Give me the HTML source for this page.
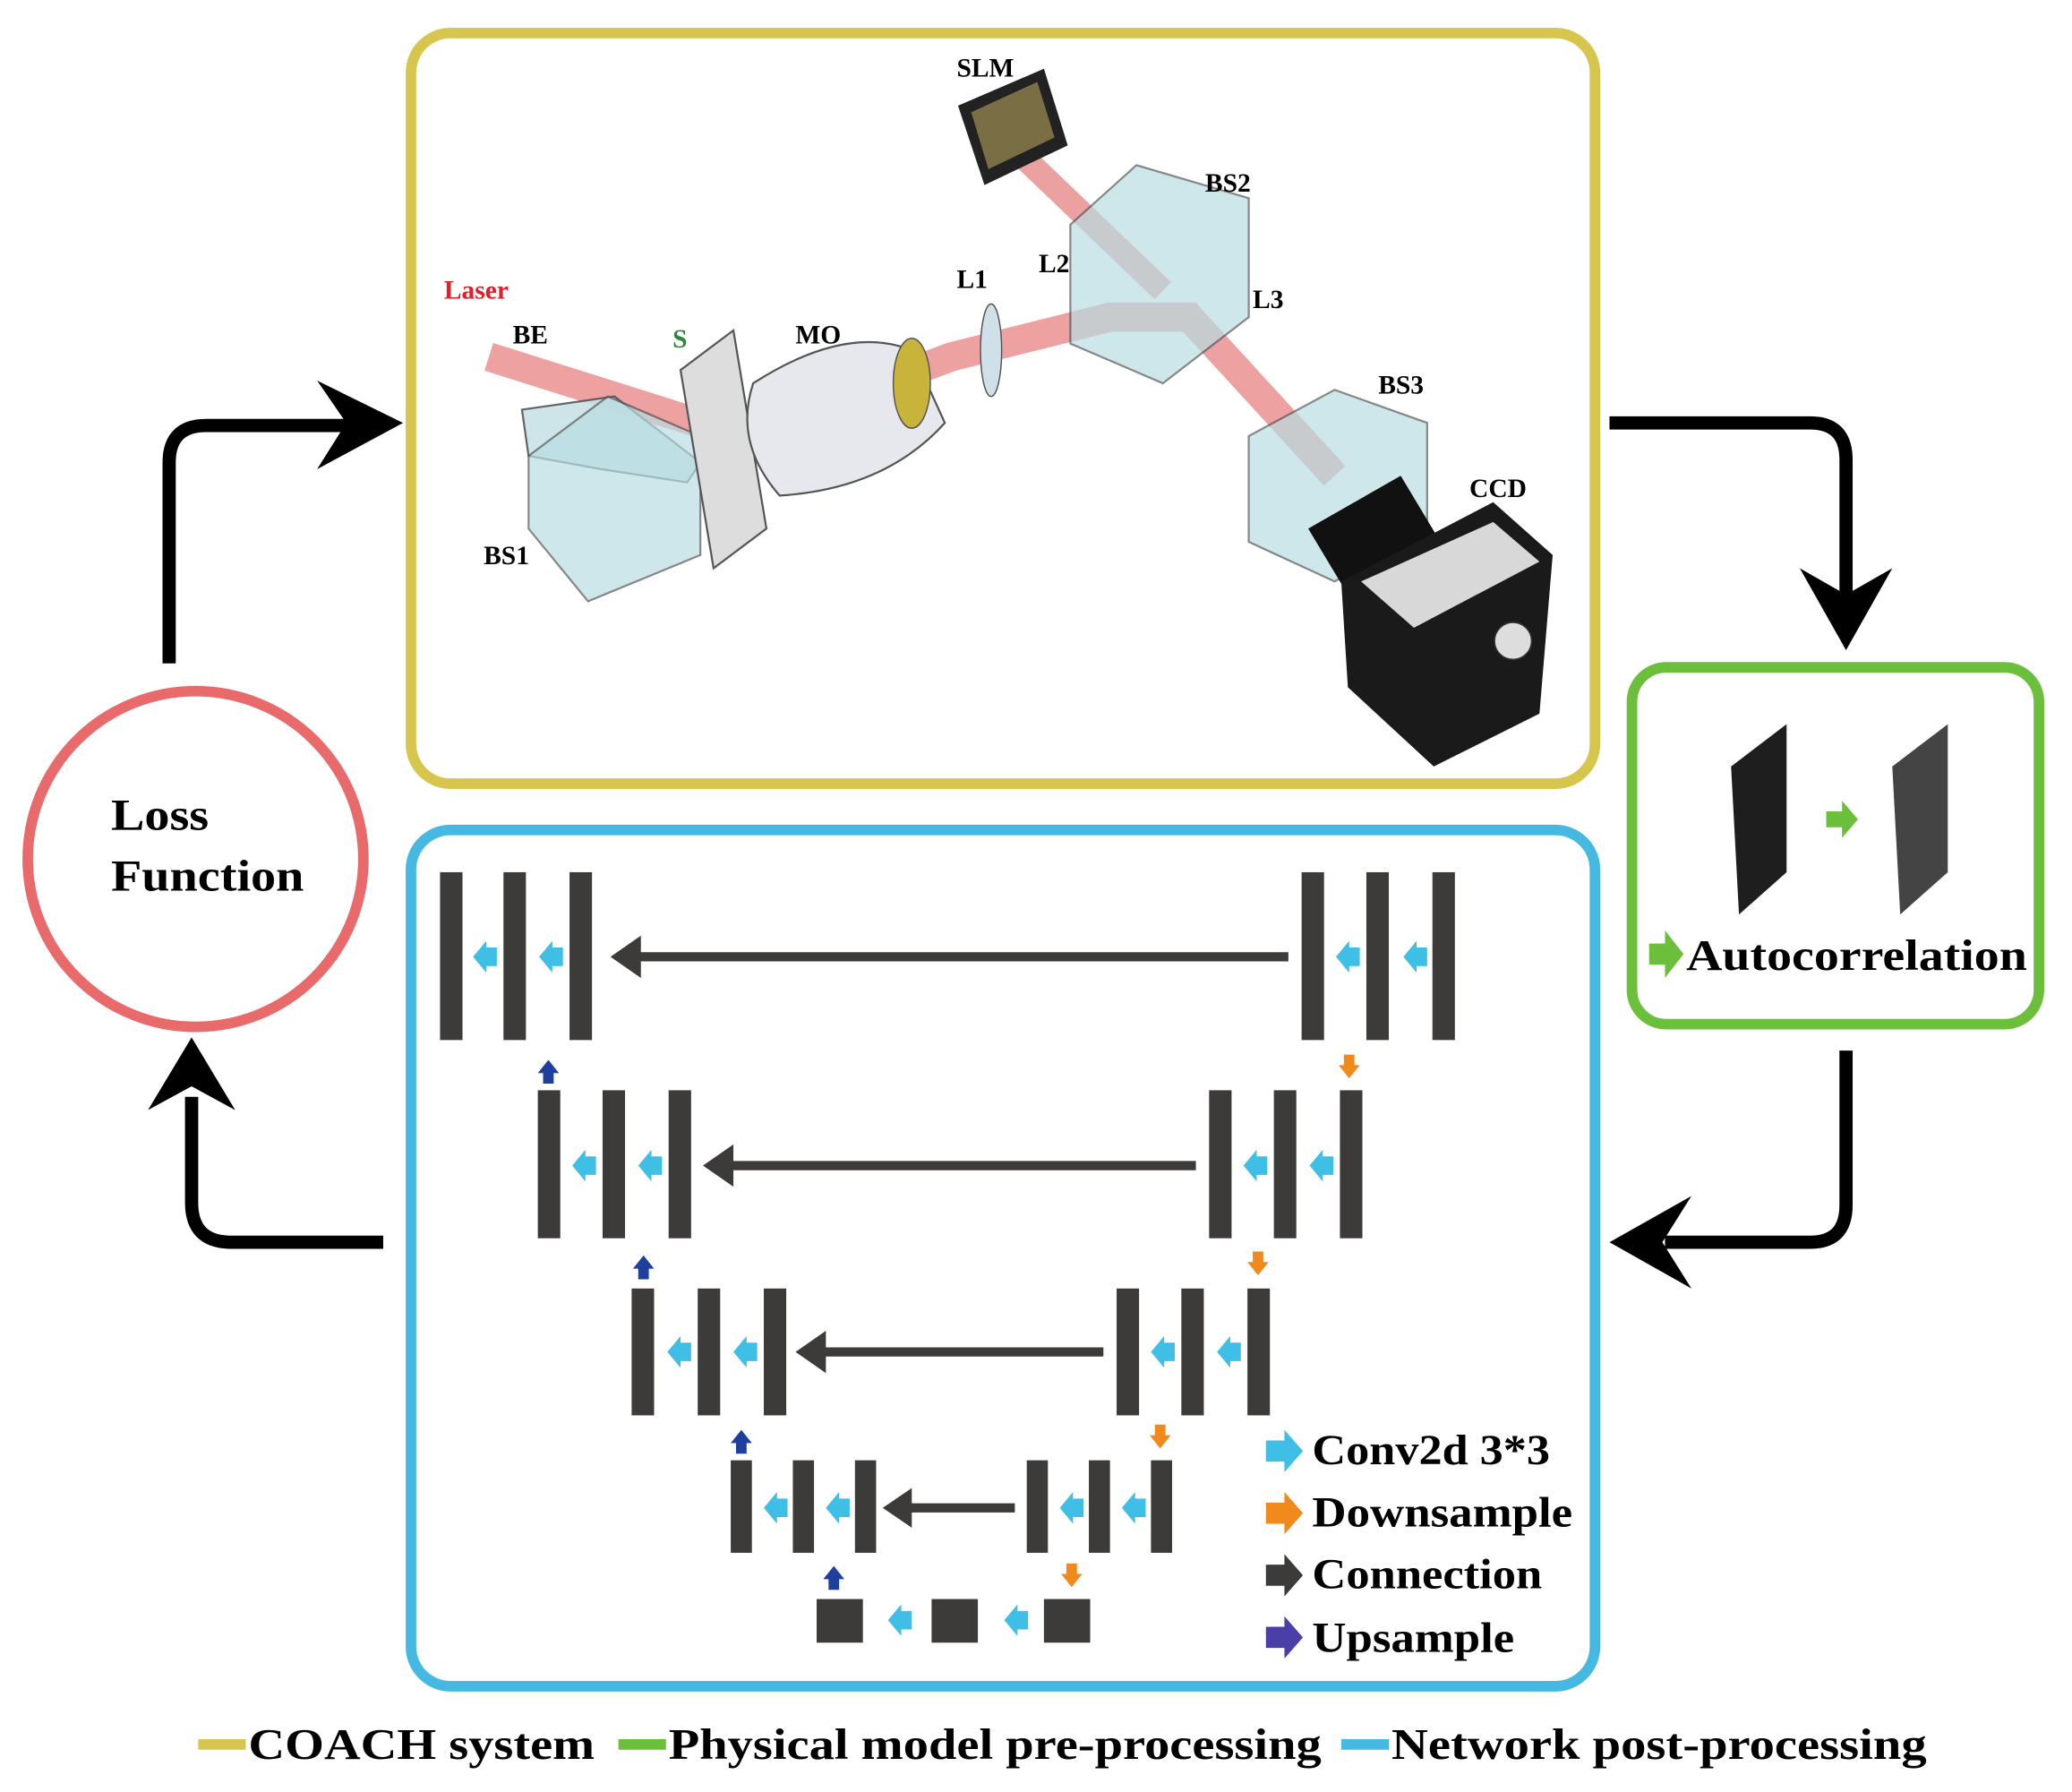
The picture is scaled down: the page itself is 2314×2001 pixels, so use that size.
<!DOCTYPE html>
<html><head><meta charset="utf-8"><style>
html,body{margin:0;padding:0;background:#fff;}
svg{display:block;}
text{font-family:"Liberation Serif",serif;font-weight:bold;}
</style></head><body>
<svg width="2314" height="2001" viewBox="0 0 1568 1356" preserveAspectRatio="none" xmlns="http://www.w3.org/2000/svg">
<defs>
<g id="cy"><path d="M0,-7 L8,-7 L8,-12 L18,0 L8,12 L8,7 L0,7 Z" fill="#3fbfe6"/></g>
<g id="up"><path d="M-4,10 L-4,2 L-8,2 L0,-8 L8,2 L4,2 L4,10 Z" fill="#1f3f9f"/></g>
<g id="dn"><path d="M-4,-10 L-4,-2 L-8,-2 L0,8 L8,-2 L4,-2 L4,-10 Z" fill="#f08a1c"/></g>
</defs>
<rect width="1568" height="1356" fill="#fff"/>
<rect x="311" y="25" width="896" height="568" rx="30" fill="none" stroke="#d6c64e" stroke-width="8"/>
<rect x="311" y="628" width="896" height="648" rx="30" fill="none" stroke="#46b9e2" stroke-width="8"/>
<rect x="1235" y="505" width="308" height="270" rx="26" fill="none" stroke="#6cbf3a" stroke-width="8"/>
<circle cx="148" cy="650" r="127" fill="none" stroke="#e86a6a" stroke-width="8"/>
<text x="84" y="628" font-size="34" textLength="74" lengthAdjust="spacingAndGlyphs">Loss</text>
<text x="84" y="674" font-size="34" textLength="146" lengthAdjust="spacingAndGlyphs">Function</text>
<g fill="none" stroke="#000" stroke-width="10" stroke-linejoin="round">
<path d="M128,502 L128,350 Q128,322 156,322 L262,322"/>
<path d="M290,940 L175,940 Q145,940 145,910 L145,830"/>
<path d="M1218,320 L1370,320 Q1397,320 1397,348 L1397,450"/>
<path d="M1397,795 L1397,912 Q1397,940 1370,940 L1260,940"/>
</g>
<path d="M240,288 L305,320 L240,355 L262,320 Z" fill="#000"/>
<path d="M112,840 L145,785 L178,840 L145,822 Z" fill="#000"/>
<path d="M1362,430 L1397,492 L1432,430 L1397,450 Z" fill="#000"/>
<path d="M1280,905 L1218,940 L1280,975 L1258,940 Z" fill="#000"/>
<g>
<path d="M370,270 L560,330 L720,270 L840,240 L900,240 L1010,360" fill="none" stroke="#e88a8a" stroke-width="22" opacity="0.8"/>
<path d="M760,105 L880,220" stroke="#e88a8a" stroke-width="18" opacity="0.8"/>
<path d="M395,310 L465,300 L530,350 L520,365 L455,355 L400,345 Z" fill="#c8e2e6" stroke="#555" stroke-width="1.5" opacity="0.9"/>
<path d="M400,345 L460,300 L530,330 L530,420 L445,455 L400,400 Z" fill="#b8dde2" stroke="#555" stroke-width="1.5" opacity="0.7"/>
<path d="M515,280 L555,250 L580,400 L540,430 Z" fill="#ddd" stroke="#555" stroke-width="1.5"/>
<path d="M570,290 Q640,245 690,265 L715,320 Q670,370 590,375 Q555,335 570,290 Z" fill="#e6e8ee" stroke="#555" stroke-width="1.5"/>
<ellipse cx="690" cy="290" rx="14" ry="34" fill="#c8b43a" stroke="#555"/>
<ellipse cx="750" cy="265" rx="8" ry="35" fill="#cfe0e8" stroke="#555"/>
<path d="M810,170 L860,125 L945,150 L945,240 L880,290 L810,260 Z" fill="#b8dde2" stroke="#555" stroke-width="1.5" opacity="0.7"/>
<path d="M725,80 L790,52 L808,110 L745,140 Z" fill="#222"/>
<path d="M735,85 L785,62 L798,104 L748,128 Z" fill="#7a6e45"/>
<path d="M945,330 L1010,295 L1080,320 L1080,400 L1010,440 L945,410 Z" fill="#b8dde2" stroke="#555" stroke-width="1.5" opacity="0.7"/>
<path d="M990,400 L1060,360 L1090,410 L1020,450 Z" fill="#111"/>
<path d="M1015,440 L1130,380 L1175,420 L1165,540 L1085,580 L1020,520 Z" fill="#1a1a1a"/>
<path d="M1030,440 L1130,395 L1165,425 L1070,475 Z" fill="#d8d8d8"/>
<circle cx="1145" cy="485" r="14" fill="#ddd" stroke="#333"/>
<text x="336" y="226" font-size="20" fill="#e0202a">Laser</text>
<text x="388" y="260" font-size="20">BE</text>
<text x="509" y="263" font-size="20" fill="#2a8a3a">S</text>
<text x="602" y="260" font-size="20">MO</text>
<text x="724" y="218" font-size="20">L1</text>
<text x="786" y="206" font-size="20">L2</text>
<text x="948" y="233" font-size="20">L3</text>
<text x="912" y="145" font-size="20">BS2</text>
<text x="724" y="58" font-size="20">SLM</text>
<text x="1043" y="298" font-size="20">BS3</text>
<text x="1112" y="376" font-size="20">CCD</text>
<text x="366" y="427" font-size="20">BS1</text>
</g>
<path d="M1310,580 L1352,548 L1352,660 L1316,692 Z" fill="#1e1e1e"/>
<path d="M1432,580 L1474,548 L1474,660 L1438,692 Z" fill="#444"/>
<path d="M1382,614 L1394,614 L1394,606 L1406,620 L1394,634 L1394,626 L1382,626 Z" fill="#6cbf3a"/>
<path d="M1248,714 L1260,714 L1260,704 L1274,722 L1260,740 L1260,730 L1248,730 Z" fill="#6cbf3a"/>
<text x="1276" y="734" font-size="33" textLength="258" lengthAdjust="spacingAndGlyphs">Autocorrelation</text>
<g fill="#3d3a3a">
<rect x="333" y="660" width="17" height="127"/><rect x="381" y="660" width="17" height="127"/><rect x="431" y="660" width="17" height="127"/>
<rect x="985" y="660" width="17" height="127"/><rect x="1034" y="660" width="17" height="127"/><rect x="1084" y="660" width="17" height="127"/>
<rect x="407" y="825" width="17" height="112"/><rect x="456" y="825" width="17" height="112"/><rect x="506" y="825" width="17" height="112"/>
<rect x="915" y="825" width="17" height="112"/><rect x="964" y="825" width="17" height="112"/><rect x="1014" y="825" width="17" height="112"/>
<rect x="478" y="975" width="17" height="96"/><rect x="528" y="975" width="17" height="96"/><rect x="578" y="975" width="17" height="96"/>
<rect x="845" y="975" width="17" height="96"/><rect x="894" y="975" width="17" height="96"/><rect x="944" y="975" width="17" height="96"/>
<rect x="553" y="1105" width="16" height="70"/><rect x="600" y="1105" width="16" height="70"/><rect x="647" y="1105" width="16" height="70"/>
<rect x="777" y="1105" width="16" height="70"/><rect x="824" y="1105" width="16" height="70"/><rect x="871" y="1105" width="16" height="70"/>
<rect x="618" y="1210" width="35" height="33"/><rect x="705" y="1210" width="35" height="33"/><rect x="790" y="1210" width="35" height="33"/>
</g>
<g stroke="#3d3a3a" stroke-width="7">
<line x1="975" y1="724" x2="480" y2="724"/>
<line x1="905" y1="882" x2="550" y2="882"/>
<line x1="835" y1="1023" x2="620" y2="1023"/>
<line x1="768" y1="1141" x2="685" y2="1141"/>
</g>
<g fill="#3d3a3a">
<path d="M462,724 L485,708 L485,740 Z"/>
<path d="M532,882 L555,866 L555,898 Z"/>
<path d="M602,1023 L625,1007 L625,1039 Z"/>
<path d="M668,1141 L690,1126 L690,1156 Z"/>
</g>
<g>
<use href="#cy" transform="translate(376,724) scale(-1,1)"/><use href="#cy" transform="translate(426,724) scale(-1,1)"/>
<use href="#cy" transform="translate(1029,724) scale(-1,1)"/><use href="#cy" transform="translate(1080,724) scale(-1,1)"/>
<use href="#cy" transform="translate(451,882) scale(-1,1)"/><use href="#cy" transform="translate(501,882) scale(-1,1)"/>
<use href="#cy" transform="translate(959,882) scale(-1,1)"/><use href="#cy" transform="translate(1009,882) scale(-1,1)"/>
<use href="#cy" transform="translate(523,1023) scale(-1,1)"/><use href="#cy" transform="translate(573,1023) scale(-1,1)"/>
<use href="#cy" transform="translate(889,1023) scale(-1,1)"/><use href="#cy" transform="translate(939,1023) scale(-1,1)"/>
<use href="#cy" transform="translate(596,1141) scale(-1,1)"/><use href="#cy" transform="translate(643,1141) scale(-1,1)"/>
<use href="#cy" transform="translate(820,1141) scale(-1,1)"/><use href="#cy" transform="translate(867,1141) scale(-1,1)"/>
<use href="#cy" transform="translate(690,1226) scale(-1,1)"/><use href="#cy" transform="translate(778,1226) scale(-1,1)"/>
<use href="#up" transform="translate(415,810)"/><use href="#up" transform="translate(487,958)"/>
<use href="#up" transform="translate(561,1090)"/><use href="#up" transform="translate(631,1193)"/>
<use href="#dn" transform="translate(1021,808)"/><use href="#dn" transform="translate(952,957)"/>
<use href="#dn" transform="translate(878,1088)"/><use href="#dn" transform="translate(811,1193)"/>
</g>
<path d="M958,1090 L972,1090 L972,1082 L986,1098 L972,1114 L972,1106 L958,1106 Z" fill="#3fbfe6"/>
<path d="M958,1137 L972,1137 L972,1129 L986,1145 L972,1161 L972,1153 L958,1153 Z" fill="#f08a1c"/>
<path d="M958,1184 L972,1184 L972,1176 L986,1192 L972,1208 L972,1200 L958,1200 Z" fill="#3d3a3a"/>
<path d="M958,1231 L972,1231 L972,1223 L986,1239 L972,1255 L972,1247 L958,1247 Z" fill="#4a3fa8"/>
<text x="993" y="1108" font-size="32" textLength="180" lengthAdjust="spacingAndGlyphs">Conv2d 3*3</text>
<text x="993" y="1155" font-size="32" textLength="197" lengthAdjust="spacingAndGlyphs">Downsample</text>
<text x="993" y="1202" font-size="32" textLength="174" lengthAdjust="spacingAndGlyphs">Connection</text>
<text x="993" y="1250" font-size="32" textLength="153" lengthAdjust="spacingAndGlyphs">Upsample</text>
<rect x="150" y="1316" width="36" height="8" fill="#d6c64e"/>
<text x="188" y="1331" font-size="33" textLength="262" lengthAdjust="spacingAndGlyphs">COACH system</text>
<rect x="468" y="1316" width="36" height="8" fill="#6cbf3a"/>
<text x="506" y="1331" font-size="33" textLength="494" lengthAdjust="spacingAndGlyphs">Physical model pre-processing</text>
<rect x="1015" y="1316" width="36" height="8" fill="#46b9e2"/>
<text x="1053" y="1331" font-size="33" textLength="405" lengthAdjust="spacingAndGlyphs">Network post-processing</text>
</svg>
</body></html>
